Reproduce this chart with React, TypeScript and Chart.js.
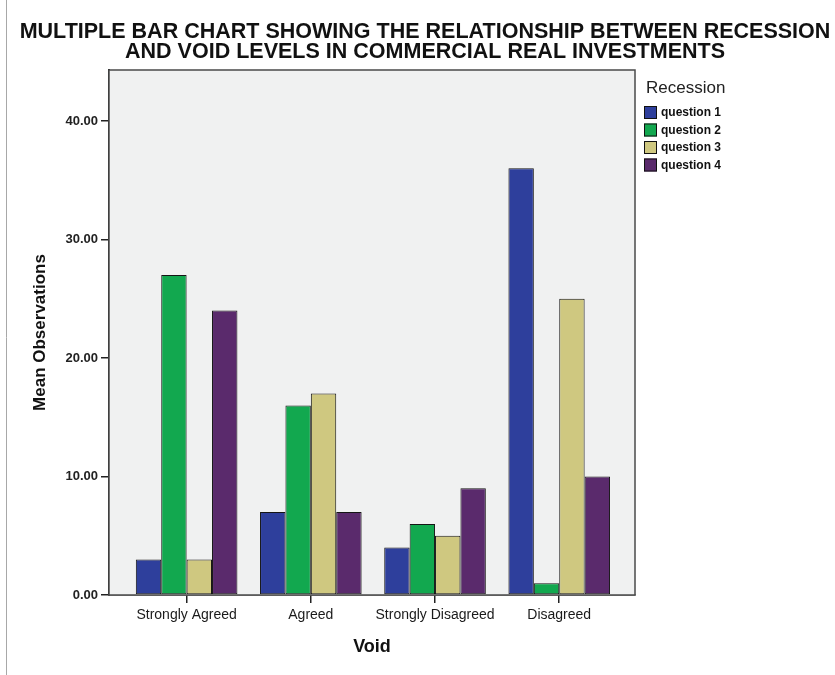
import React, { useEffect, useRef } from "react";
import { Chart, registerables } from "chart.js";

Chart.register(...registerables);

const categories = ["Strongly Agreed", "Agreed", "Strongly Disagreed", "Disagreed"];
const seriesNames = ["question 1", "question 2", "question 3", "question 4"];
const question1 = [3, 7, 4, 36];
const question2 = [27, 16, 6, 1];
const question3 = [3, 17, 5, 25];
const question4 = [24, 7, 9, 10];
const yTicks = [0, 10, 20, 30, 40];
const seriesColors = ["#2E3F9C", "#12A84F", "#CFC880", "#5A2A6C"];
const titleLines = [
  "MULTIPLE BAR CHART SHOWING THE RELATIONSHIP BETWEEN RECESSION",
  "AND VOID LEVELS IN COMMERCIAL REAL INVESTMENTS",
];
const legendTitle = "Recession";
const xTitle = "Void";
const yTitle = "Mean Observations";

const FONT = "'Liberation Sans', Arial, sans-serif";

const decorPlugin = {
  id: "decor",
  beforeDatasetsDraw(chart: any) {
    const { ctx, chartArea: a } = chart;
    ctx.save();
    ctx.fillStyle = "#F0F1F1";
    ctx.fillRect(a.left, a.top, a.right - a.left, a.bottom - a.top);
    ctx.restore();
  },
  afterDatasetsDraw(chart: any) {
    const { ctx, chartArea: a } = chart;
    ctx.save();
    ctx.strokeStyle = "#4a4a4a";
    ctx.lineWidth = 1.5;
    ctx.strokeRect(a.left, a.top, a.right - a.left, a.bottom - a.top);
    ctx.restore();
  },
  afterDraw(chart: any) {
    const { ctx } = chart;
    ctx.save();
    // left page border
    ctx.strokeStyle = "#a8a8a8";
    ctx.lineWidth = 1;
    ctx.beginPath();
    ctx.moveTo(6.5, 0);
    ctx.lineTo(6.5, chart.height);
    ctx.stroke();

    // title
    ctx.fillStyle = "#111";
    ctx.font = `bold 22px ${FONT}`;
    const w2 = ctx.measureText(titleLines[1]).width;
    const s = 600 / w2;
    const baselines = [38, 58];
    titleLines.forEach((line, i) => {
      ctx.save();
      ctx.translate(425, baselines[i]);
      ctx.scale(s, 1);
      ctx.textAlign = "center";
      ctx.textBaseline = "alphabetic";
      ctx.fillText(line, 0, 0);
      ctx.restore();
    });

    // legend
    ctx.textAlign = "left";
    ctx.textBaseline = "alphabetic";
    ctx.fillStyle = "#222";
    ctx.font = `17px ${FONT}`;
    ctx.fillText(legendTitle, 646, 93);
    ctx.font = `bold 12px ${FONT}`;
    chart.data.datasets.forEach((ds: any, i: number) => {
      const y = 106 + i * 17.5;
      ctx.fillStyle = ds.backgroundColor;
      ctx.fillRect(644, y, 13, 13);
      ctx.strokeStyle = "#111";
      ctx.lineWidth = 1;
      ctx.strokeRect(644.5, y + 0.5, 12, 12);
      ctx.fillStyle = "#111";
      ctx.textBaseline = "middle";
      ctx.fillText(ds.label, 661, y + 7);
    });
    ctx.restore();
  },
};

export default function App() {
  const ref = useRef<HTMLCanvasElement | null>(null);

  useEffect(() => {
    if (!ref.current) return;
    const series = [question1, question2, question3, question4];
    const chart = new Chart(ref.current, {
      type: "bar",
      data: {
        datasets: series.map((vals, i) => ({
          label: seriesNames[i],
          data: vals.map((v, j) => ({ x: j, y: v })),
          backgroundColor: seriesColors[i],
          borderColor: "#151515",
          borderWidth: 1,
          borderSkipped: false,
          categoryPercentage: 0.818,
          barPercentage: 1,
        })),
      },
      options: {
        responsive: false,
        animation: false,
        layout: { padding: { top: 70, right: 200, left: 0, bottom: 0 } },
        plugins: {
          legend: { display: false },
          title: { display: false },
          tooltip: { enabled: false },
        },
        scales: {
          x: {
            type: "linear",
            offset: false,
            min: -0.625,
            max: 3.61,
            afterBuildTicks(scale: any) {
              scale.ticks = categories.map((_, i) => ({ value: i }));
            },
            afterFit(scale: any) {
              scale.height = 80;
            },
            grid: {
              offset: false,
              drawOnChartArea: false,
              drawTicks: true,
              tickLength: 8,
              color: "#222",
              lineWidth: 1.5,
            },
            border: { display: true, color: "#333", width: 1.5 },
            ticks: {
              autoSkip: false,
              maxRotation: 0,
              padding: 4,
              color: "#1a1a1a",
              font: { family: FONT, size: 14 },
              callback: (v: any) => categories[Math.round(Number(v))] ?? "",
            },
            title: {
              display: true,
              text: xTitle,
              color: "#111",
              font: { family: FONT, size: 18, weight: "bold" },
              padding: { top: 0, bottom: 17 },
            },
          },
          y: {
            type: "linear",
            min: 0,
            max: 44.3,
            afterBuildTicks(scale: any) {
              scale.ticks = yTicks.map((v) => ({ value: v }));
            },
            afterFit(scale: any) {
              scale.width = 109;
            },
            grid: {
              drawOnChartArea: false,
              drawTicks: true,
              tickLength: 8,
              color: "#222",
              lineWidth: 1.5,
            },
            border: { display: true, color: "#222", width: 2 },
            ticks: {
              padding: 3,
              color: "#222",
              font: { family: FONT, size: 13, weight: "bold" },
              callback: (v: any) => Number(v).toFixed(2),
            },
            title: {
              display: true,
              text: yTitle,
              color: "#111",
              font: { family: FONT, size: 17, weight: "bold" },
              padding: { top: 30, bottom: 0 },
            },
          },
        },
      },
      plugins: [decorPlugin],
    } as any);
    return () => chart.destroy();
  }, []);

  return (
    <div style={{ position: "fixed", left: 0, top: 0, width: 835, height: 675, background: "#fff" }}>
      <canvas ref={ref} width={835} height={675} style={{ width: 835, height: 675 }} />
    </div>
  );
}
